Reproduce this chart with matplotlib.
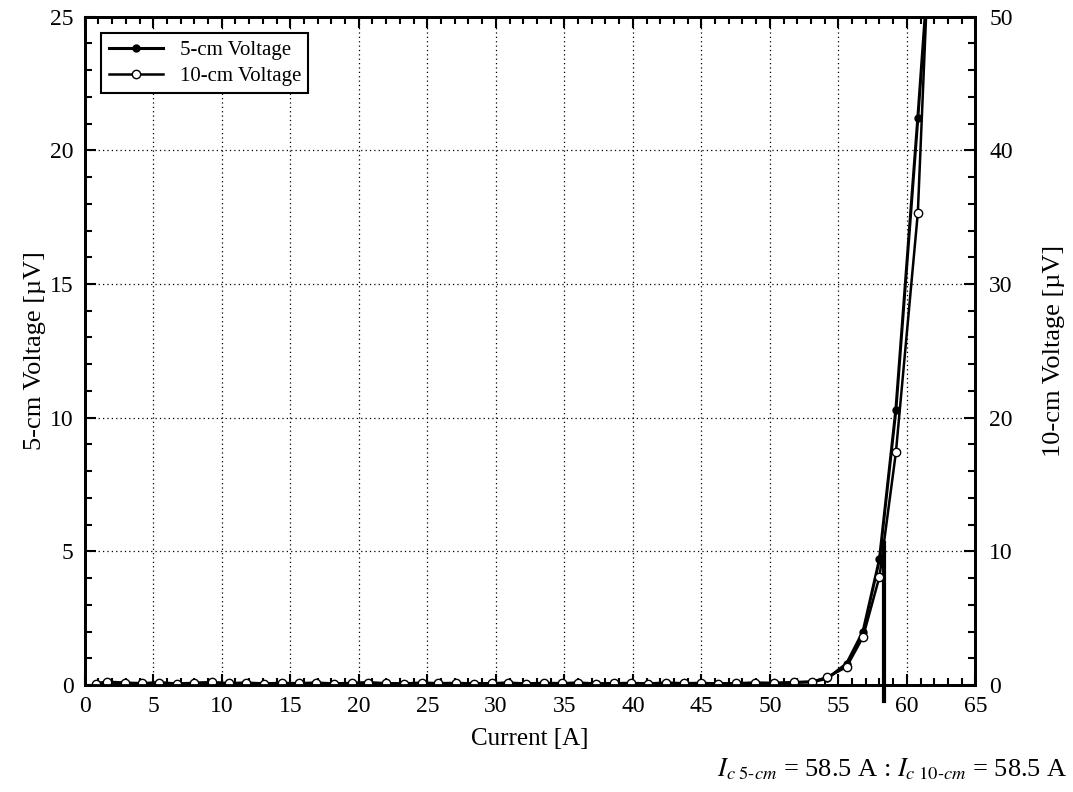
import matplotlib.pyplot as plt
from matplotlib.ticker import MultipleLocator

plt.rcParams['font.family'] = ['Liberation Serif', 'DejaVu Serif']
plt.rcParams['mathtext.fontset'] = 'stix'

# current [A]
current = [0.8, 1.6, 2.9, 4.2, 5.4, 6.7, 8.0, 9.3, 10.5, 11.8, 13.1, 14.4, 15.6,
           16.9, 18.2, 19.5, 20.7, 22.0, 23.3, 24.6, 25.8, 27.1, 28.4, 29.7, 30.9,
           32.2, 33.5, 34.8, 36.0, 37.3, 38.6, 39.9, 41.1, 42.4, 43.7, 45.0, 46.2,
           47.5, 48.9, 50.3, 51.8, 53.1, 54.2, 55.6, 56.8, 58.0, 59.2, 60.8, 62.1]
# 5-cm voltage [uV]
v5 = [0.05, 0.12, 0.08, 0.06, 0.09, 0.05, 0.07, 0.1, 0.06, 0.08, 0.05, 0.07, 0.06,
      0.08, 0.05, 0.07, 0.09, 0.06, 0.05, 0.08, 0.06, 0.07, 0.05, 0.06, 0.08,
      0.05, 0.07, 0.06, 0.08, 0.05, 0.06, 0.07, 0.05, 0.08, 0.06, 0.07, 0.05,
      0.06, 0.08, 0.07, 0.1, 0.12, 0.25, 0.8, 2.0, 4.7, 10.3, 21.2, 30.5]
# 10-cm voltage [uV]
v10 = [0.1, 0.2, 0.15, 0.12, 0.18, 0.1, 0.15, 0.2, 0.12, 0.16, 0.1, 0.14, 0.12,
       0.16, 0.1, 0.14, 0.18, 0.12, 0.1, 0.16, 0.12, 0.14, 0.1, 0.12, 0.16,
       0.1, 0.14, 0.12, 0.16, 0.1, 0.12, 0.14, 0.1, 0.16, 0.12, 0.14, 0.1,
       0.12, 0.16, 0.14, 0.2, 0.25, 0.6, 1.35, 3.6, 8.1, 17.4, 35.3, 67.0]

ic = 58.3

fig = plt.figure(figsize=(10.73, 7.92), dpi=100)
ax = fig.add_axes([0.079, 0.135, 0.83, 0.844])
ax2 = ax.twinx()

l1, = ax.plot(current, v5, '-o', color='black', lw=2.2, ms=5,
              markerfacecolor='black', label='5-cm Voltage')
l2, = ax2.plot(current, v10, '-o', color='black', lw=1.8, ms=6,
               markerfacecolor='white', markeredgewidth=1, label='10-cm Voltage')
ax.plot([ic, ic], [-0.6, 5.3], color='black', lw=3, clip_on=False, zorder=5)

ax.set_xlim(0, 65)
ax.set_ylim(0, 25)
ax2.set_ylim(0, 50)

ax.xaxis.set_major_locator(MultipleLocator(5))
ax.xaxis.set_minor_locator(MultipleLocator(1))
ax.yaxis.set_major_locator(MultipleLocator(5))
ax.yaxis.set_minor_locator(MultipleLocator(1))
ax2.yaxis.set_major_locator(MultipleLocator(10))
ax2.yaxis.set_minor_locator(MultipleLocator(2))

ax.tick_params(which='both', direction='in', top=True, labelsize=17, width=1.5)
ax.tick_params(which='major', length=8, pad=8)
ax.tick_params(which='minor', length=5)
ax2.tick_params(which='both', direction='in', labelsize=17, width=1.5)
ax2.tick_params(which='major', length=8, pad=10)
ax2.tick_params(which='minor', length=5)
for a in (ax, ax2):
    for s in a.spines.values():
        s.set_linewidth(2)

ax.grid(True, which='major', linestyle=(0, (1, 2.5)), color='black', lw=0.9)

ax.set_xlabel('Current [A]', fontsize=18, labelpad=8)
ax.set_ylabel('5-cm Voltage [\u00b5V]', fontsize=19, labelpad=3)
ax2.set_ylabel('10-cm Voltage [\u00b5V]', fontsize=19, labelpad=22)

leg = ax.legend(handles=[l1, l2], loc='upper left', fontsize=15,
                fancybox=False, edgecolor='black', framealpha=1,
                borderaxespad=0.8, handlelength=2.6, borderpad=0.35,
                labelspacing=0.3)
leg.get_frame().set_linewidth(1.5)

fig.text(0.995, 0.012,
         r'$I_{\mathit{c\ 5}\text{-}\mathit{cm}}$ = 58.5 A : $I_{\mathit{c\ 10}\text{-}\mathit{cm}}$ = 58.5 A',
         ha='right', va='bottom', fontsize=19)

fig.savefig('out.png', dpi=100)
